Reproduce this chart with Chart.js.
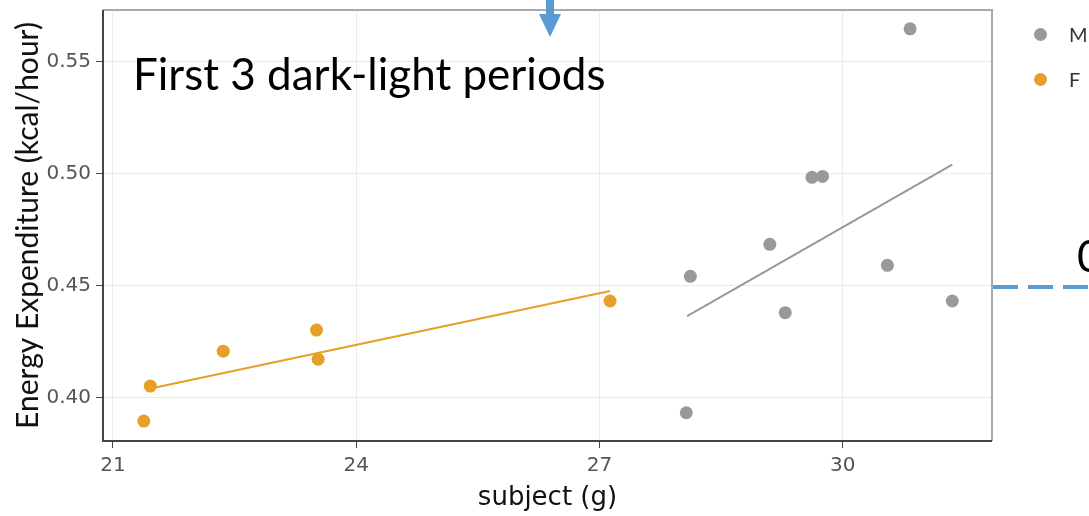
<!DOCTYPE html>
<html>
<head>
<meta charset="utf-8">
<script src="https://cdn.jsdelivr.net/npm/chart.js@4.4.1/dist/chart.umd.min.js"></script>
<style>
  html, body { margin: 0; padding: 0; background: #fff; overflow: hidden; }
  #wrap { position: relative; width: 1089px; height: 516px; }
  #note { position: absolute; left: 133px; top: 47px; font: 44px Lato, sans-serif; color: #000; white-space: nowrap; }
  #cut { position: absolute; left: 1077px; top: 229px; font: 44px Lato, sans-serif; color: #000; }
  .leg { position: absolute; left: 1034px; font: 20px Lato, sans-serif; color: #333; line-height: 24px; }
  .leg i { display: inline-block; width: 13px; height: 13px; border-radius: 50%; vertical-align: 1px; margin-right: 22px; }
</style>
</head>
<body>
<div id="wrap">
  <canvas id="myChart" width="1089" height="516"></canvas>
  <div id="note">First 3 dark-light periods</div>
  <div id="cut">0</div>
  <div class="leg" style="top:22px"><i style="background:#999999"></i>M</div>
  <div class="leg" style="top:67px"><i style="background:#e69f27"></i>F</div>
</div>
<script>
// body mass (g) vs energy expenditure
const mWeight = [28.12, 28.07, 29.10, 29.29, 29.62, 29.75, 30.55, 31.35, 30.83];
const mEnergy = [0.4542, 0.3933, 0.4685, 0.4380, 0.4984, 0.4988, 0.4591, 0.4432, 0.5647];
const fWeight = [21.46, 21.38, 22.36, 23.51, 23.53, 27.13];
const fEnergy = [0.4052, 0.3896, 0.4208, 0.4302, 0.4172, 0.4432];

// fitted lines (end points)
const mFitX = [28.08, 31.35];
const mFitY = [0.4364, 0.5041];
const fFitX = [21.45, 27.13];
const fFitY = [0.4040, 0.4477];

const xTicks = [21, 24, 27, 30];
const yTicks = [0.40, 0.45, 0.50, 0.55];

const M_COL = '#999999';
const F_COL = '#e69f27';

const pts = (xs, ys) => xs.map((x, i) => ({ x: x, y: ys[i] }));

const frame = {
  id: 'frame',
  beforeDatasetsDraw(chart) {
    const a = chart.chartArea, c = chart.ctx;
    c.save();
    c.strokeStyle = '#aaaaaa';
    c.lineWidth = 2;
    c.beginPath();
    c.moveTo(a.left, a.top); c.lineTo(a.right, a.top); c.lineTo(a.right, a.bottom);
    c.stroke();
    c.strokeStyle = '#444444';
    c.beginPath();
    c.moveTo(a.left, a.top); c.lineTo(a.left, a.bottom); c.lineTo(a.right, a.bottom);
    c.stroke();
    c.restore();
  },
  afterDraw(chart) {
    const c = chart.ctx;
    c.save();
    // slide decorations: arrow + dashed line
    c.fillStyle = '#5b9bd5';
    c.fillRect(546, 0, 8, 16);
    c.beginPath();
    c.moveTo(539, 14); c.lineTo(561, 14); c.lineTo(550, 37); c.closePath();
    c.fill();
    c.strokeStyle = '#5b9bd5';
    c.lineWidth = 4;
    c.setLineDash([25, 10]);
    c.beginPath();
    c.moveTo(993, 287); c.lineTo(1089, 287);
    c.stroke();
    c.restore();
  }
};

new Chart(document.getElementById('myChart'), {
  type: 'scatter',
  data: {
    datasets: [
      { label: 'M', data: pts(mWeight, mEnergy), backgroundColor: M_COL, pointRadius: 6.5, pointBorderWidth: 0, order: 1 },
      { label: 'F', data: pts(fWeight, fEnergy), backgroundColor: F_COL, pointRadius: 6.5, pointBorderWidth: 0, order: 1 },
      { type: 'line', label: 'M fit', data: pts(mFitX, mFitY), borderColor: M_COL, borderWidth: 2, pointRadius: 0, fill: false, order: 2 },
      { type: 'line', label: 'F fit', data: pts(fFitX, fFitY), borderColor: F_COL, borderWidth: 2, pointRadius: 0, fill: false, order: 2 }
    ]
  },
  options: {
    responsive: false,
    animation: false,
    layout: { padding: { top: 10, right: 97, left: 0, bottom: 0 } },
    plugins: { legend: { display: false }, tooltip: { enabled: false } },
    scales: {
      x: {
        type: 'linear',
        min: 20.877,
        max: 31.84,
        afterBuildTicks: s => { s.ticks = xTicks.map(v => ({ value: v })); },
        afterFit: s => { s.height = 75; s.paddingLeft = 0; s.paddingRight = 0; },
        grid: { color: '#ebebeb', tickColor: '#444', tickLength: 7 },
        border: { display: false },
        ticks: { color: '#555', font: { family: 'DejaVu Sans', size: 20 }, padding: 6, maxRotation: 0 },
        title: { display: true, text: 'subject (g)', color: '#111', font: { family: 'DejaVu Sans', size: 26 }, padding: { top: 0, bottom: 2 } }
      },
      y: {
        min: 0.3807,
        max: 0.5731,
        afterBuildTicks: s => { s.ticks = yTicks.map(v => ({ value: v })); },
        afterFit: s => { s.width = 103; s.paddingTop = 0; s.paddingBottom = 0; },
        grid: { color: '#ebebeb', tickColor: '#444', tickLength: 7 },
        border: { display: false },
        ticks: { color: '#555', font: { family: 'DejaVu Sans', size: 20 }, padding: 5, callback: v => v.toFixed(2) },
        title: { display: true, text: 'Energy Expenditure (kcal/hour)', color: '#111', font: { family: 'Lato', size: 30 }, padding: { top: 10, bottom: 0 } }
      }
    }
  },
  plugins: [frame]
});
</script>
</body>
</html>
